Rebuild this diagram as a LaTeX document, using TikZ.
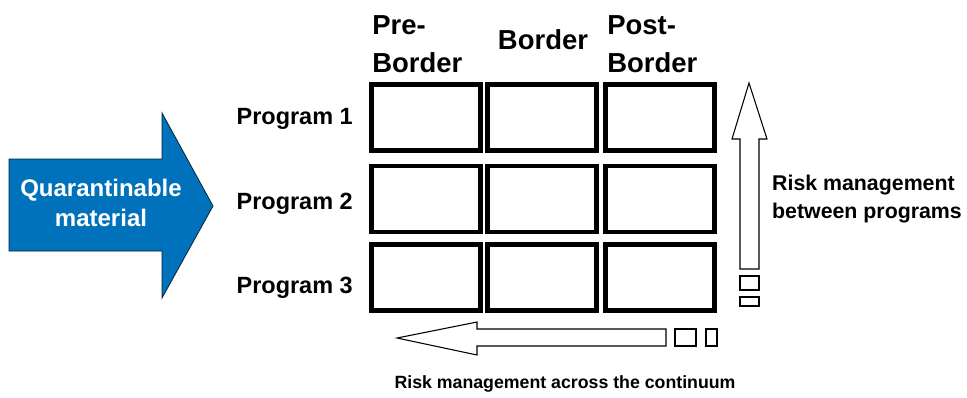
\documentclass[tikz,border=0pt]{standalone}
\usepackage{fontspec}
\setmainfont{Liberation Sans}
\definecolor{flowblue}{RGB}{0,114,188}
\begin{document}
\begin{tikzpicture}[x=0.75pt,y=-0.75pt,
  cell/.style={draw=black,line width=3.4pt,fill=white,minimum width=81.75pt,minimum height=49.5pt,inner sep=0pt},
  hdr/.style={font=\bfseries\fontsize{20.6}{28.5}\selectfont,inner sep=0pt},
  prog/.style={font=\bfseries\fontsize{17.6}{21}\selectfont,inner sep=0pt,anchor=east},
  outline/.style={draw=black,line width=0.8pt,fill=white,line join=miter},
  note/.style={font=\bfseries\fontsize{16}{20.5}\selectfont,inner sep=0pt,align=left}]
\useasboundingbox (0,0) rectangle (967,397);

% incoming material
\draw[fill=flowblue,draw=black!70!flowblue,line width=0.6pt]
  (9,159) -- (162,159) -- (162,113) -- (213,206) -- (162,298) -- (162,251) -- (9,251) -- cycle;
\node[text=white,font=\bfseries\fontsize{18}{22.5}\selectfont,align=center,inner sep=0pt] (material) at (101,203) {Quarantinable\\material};

% column headings
\node[hdr,align=left,anchor=north west] (pre) at (372,15) {Pre-\\Border};
\node[hdr] (border) at (543,40) {Border};
\node[hdr,align=left,anchor=north west] (post) at (607,15) {Post-\\Border};

% program rows
\node[prog] (p1) at (353,119) {Program 1};
\node[prog] (p2) at (353,204) {Program 2};
\node[prog] (p3) at (353,288) {Program 3};

% grid of cells
\foreach \r/\ry in {1/117.5,2/199,3/277.5}{
  \foreach \c/\cx in {1/426,2/542,3/660}{
    \node[cell] (c\r\c) at (\cx,\ry) {};
  }
}

% upward risk arrow
\draw[outline] (740,269) -- (740,139) -- (732,139) -- (749,83) -- (767,139) -- (759,139) -- (759,269) -- cycle;
\draw[outline] (740,276) rectangle (759,290);
\draw[outline] (740,297) rectangle (759,306);
\node[note] (between) at (867,199) {Risk management\\between programs};

% leftward risk arrow
\draw[outline] (666,329) -- (477,329) -- (477,322) -- (397,338) -- (477,355) -- (477,346) -- (666,346) -- cycle;
\draw[outline] (675,329) rectangle (696,346);
\draw[outline] (706,329) rectangle (717,346);
\node[font=\bfseries\fontsize{13.3}{16}\selectfont,inner sep=0pt] (across) at (565,384) {Risk management across the continuum};
\end{tikzpicture}
\end{document}
